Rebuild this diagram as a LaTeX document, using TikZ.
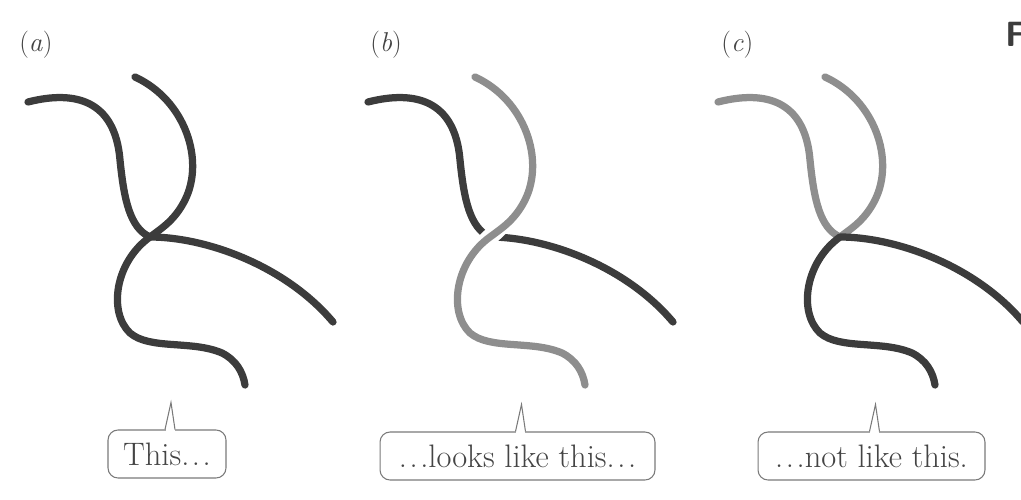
\documentclass[tikz,border=0pt]{standalone}
\usepackage{fontspec}
\definecolor{inkdark}{HTML}{3C3C3C}
\definecolor{inkpale}{HTML}{8E8E8E}
\definecolor{boxline}{HTML}{7A7A7A}
\definecolor{textgray}{HTML}{444444}
% the four half-strands that meet at the crossing point (150,237)
\newcommand\pieceTL{(28,102) .. controls (75,90) and (115,100) .. (120,160) .. controls (124,200) and (130,228) .. (150,237)}
\newcommand\pieceTR{(135,77) .. controls (185,100) and (205,160) .. (185,200) .. controls (175,220) and (162,228) .. (150,237)}
\newcommand\pieceB{(150,237) .. controls (115,262) and (108,312) .. (130,333) .. controls (150,350) and (192,340) .. (222,353) .. controls (236,360) and (243,372) .. (245,385)}
\newcommand\pieceR{(150,237) .. controls (205,237) and (285,265) .. (333,322)}
% an evenly spaced ellipsis
\newcommand\wdots{.\kern0.08em.\kern0.08em.}
\begin{document}
\begin{tikzpicture}[x=0.02cm,y=-0.02cm,
  strand/.style={line width=0.145cm, line cap=round, line join=round},
  dark/.style={strand, draw=inkdark},
  pale/.style={strand, draw=inkpale},
  halo/.style={line width=0.34cm, draw=white, line cap=butt},
  callout/.style={draw=boxline, line width=0.6pt, rounded corners=0.2cm,
    minimum height=0.96cm, inner sep=0pt, text=textgray,
    font=\fontsize{18.5}{22}\selectfont},
  spike/.style={draw=boxline, line width=0.6pt, line join=miter},
  panel/.style={anchor=base west, inner sep=0pt, text=textgray,
    font=\fontsize{15.5}{18}\selectfont}]
\useasboundingbox (0,0) rectangle (1021,500);

% panel labels
\node[panel] (la) at (19,52) {(\textit{a})};
\node[panel] (lb) at (370,52) {(\textit{b})};
\node[panel] (lc) at (721,52) {(\textit{c})};
\node[anchor=base west, inner sep=0pt, text=inkdark,
  font=\sffamily\bfseries\fontsize{20}{20}\selectfont] (fig) at (1005,47) {F};

% (a) two strands touching at the crossing
\begin{scope}
  \draw[dark] \pieceTL \pieceR;
  \draw[dark] \pieceTR \pieceB;
\end{scope}

% (b) pale strand passing over the dark one
\begin{scope}[shift={(340,0)}]
  \draw[dark] \pieceTL \pieceR;
  \path[halo] (170,218) -- (130,256);
  \draw[pale] \pieceTR \pieceB;
\end{scope}

% (c) the strands reconnected at the crossing
\begin{scope}[shift={(690,0)}]
  \draw[pale] \pieceTL \pieceTR;
  \draw[dark] \pieceB \pieceR;
\end{scope}

% callouts
\node[callout, minimum width=2.36cm] (ca) at (167,454) {This\wdots};
\node[callout, minimum width=5.5cm] (cb) at (517.5,456) {\wdots looks like this\wdots};
\node[callout, minimum width=4.54cm] (cc) at (871.5,456) {\wdots not like this.};

\foreach \c in {ca,cb,cc}{
  \fill[white] ([xshift=-0.03cm,yshift=-0.03cm]\c.north) rectangle ([xshift=0.15cm,yshift=0.03cm]\c.north);
  \draw[spike] ([xshift=-0.04cm]\c.north) -- ([xshift=0.08cm,yshift=0.54cm]\c.north) -- ([xshift=0.16cm]\c.north);
}
\end{tikzpicture}
\end{document}
